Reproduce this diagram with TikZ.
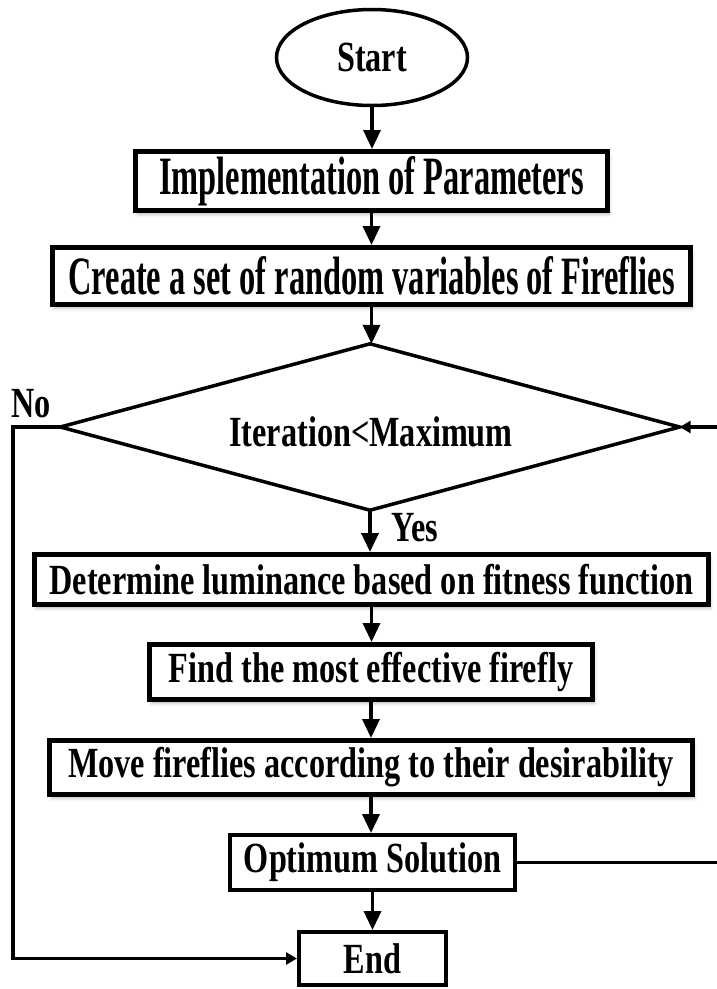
\documentclass[tikz,border=0pt]{standalone}
\usepackage{fontspec}
\setmainfont{Liberation Serif}[FakeStretch=0.75]
\newfontfamily\tallfont{Liberation Serif}[FakeStretch=0.6]
\usetikzlibrary{shapes.geometric,arrows.meta,shadows.blur}

\begin{document}
\begin{tikzpicture}[x=1pt,y=-1pt,
  lbl/.style={font=\fontsize{43}{43}\selectfont\bfseries},
  tall/.style={font=\tallfont\fontsize{54}{54}\selectfont\bfseries},
  boxshadow/.style={blur shadow={shadow xshift=2pt,shadow yshift=-4pt,
      shadow opacity=25,shadow blur radius=3pt}},
  procbox/.style={draw,rectangle,line width=5pt,inner sep=0pt,fill=white,boxshadow},
  plainbox/.style={draw,rectangle,line width=4pt,inner sep=0pt,fill=white},
  terminal/.style={draw,ellipse,line width=3.5pt,inner sep=0pt,fill=white},
  decisionarea/.style={rectangle,inner sep=0pt},
  flow/.style={line width=3.5pt,-{Triangle[length=19pt,width=17pt]}},
  sideflow/.style={line width=3.5pt,-{Triangle[length=11pt,width=12pt]}},
]
\useasboundingbox (0,0) rectangle (717,989);

% terminals, process boxes and the loop test
\node[terminal,lbl,minimum width=191pt,minimum height=96pt] (start) at (372,57.5) {Start};
\node[procbox,tall,minimum width=472pt,minimum height=59pt] (impl) at (371.5,181) {Implementation of Parameters};
\node[procbox,tall,minimum width=638pt,minimum height=57pt] (create) at (371.5,276) {Create a set of random variables of Fireflies};
\node[decisionarea,lbl,minimum width=619pt,minimum height=166pt] (cond) at (370,427) {};
\draw[line width=3.5pt,line join=miter] (cond.west) -- (cond.north) -- (cond.east) -- (cond.south) -- cycle;
\node[lbl,inner sep=0pt] (condtext) at (371,432) {Iteration<Maximum};
\node[procbox,lbl,minimum width=674pt,minimum height=50pt] (det) at (371.5,579.5) {Determine luminance based on fitness function};
\node[procbox,lbl,minimum width=443pt,minimum height=55pt] (find) at (371,672) {Find the most effective firefly};
\node[procbox,lbl,minimum width=643pt,minimum height=54pt] (move) at (371,767.5) {Move fireflies according to their desirability};
\node[plainbox,lbl,minimum width=285pt,minimum height=55pt] (opt) at (372.5,862.5) {Optimum Solution};
\node[plainbox,lbl,minimum width=147pt,minimum height=53pt] (endn) at (372.5,958.5) {End};

% branch labels
\node[lbl,inner sep=0pt] (yes) at (415,528) {Yes};
\node[lbl,inner sep=0pt] (no) at (31,404) {No};

% main flow
\draw[flow] (start.south) -- (start.south |- impl.north);
\draw[flow] (impl.south) -- (impl.south |- create.north);
\draw[flow] (create.south) -- (create.south |- cond.north);
\draw[flow] (cond.south) -- (cond.south |- det.north);
\draw[flow] (det.south) -- (det.south |- find.north);
\draw[flow] (find.south) -- (find.south |- move.north);
\draw[flow] (move.south) -- (move.south |- opt.north);
\draw[flow] (opt.south) -- (opt.south |- endn.north);

% loop back to the test and exit branch
\coordinate (loopright) at (732,862.5);
\coordinate (exitleft) at (13,427);
\draw[sideflow] (opt.east) -- (loopright) |- (cond.east);
\draw[sideflow] (cond.west) -- (exitleft) |- (endn.west);
\end{tikzpicture}
\end{document}
